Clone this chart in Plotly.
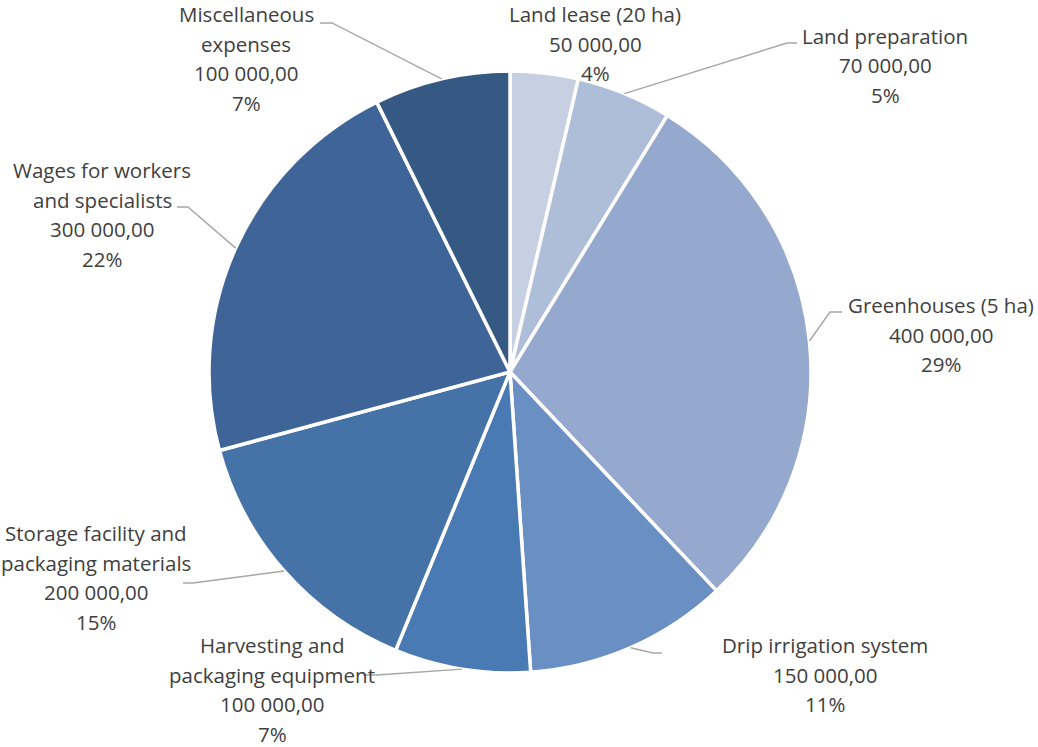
import math
import plotly.graph_objects as go

W, H = 1038, 747

# ---- data ----
categories = ["Land lease (20 ha)", "Land preparation", "Greenhouses (5 ha)",
              "Drip irrigation system", "Harvesting and packaging equipment",
              "Storage facility and packaging materials",
              "Wages for workers and specialists", "Miscellaneous expenses"]
values = [50000, 70000, 400000, 150000, 100000, 200000, 300000, 100000]
label_lines = [["Land lease (20 ha)"], ["Land preparation"], ["Greenhouses (5 ha)"],
               ["Drip irrigation system"], ["Harvesting and", "packaging equipment"],
               ["Storage facility and", "packaging materials"],
               ["Wages for workers", "and specialists"], ["Miscellaneous", "expenses"]]

# ---- styles / layout ----
colors = ["#C7D0E3", "#AEBED9", "#95A9CF", "#6A8FC3", "#4A7AB4",
          "#4673A7", "#3F6598", "#365983"]
CX, CY, R = 510, 372, 301
# label block centre x and first-line y (pixels)
label_pos = [(595, 14), (885, 36), (941, 305), (825, 645), (272, 645),
             (96, 533), (102, 170), (246, 14)]
# leader line: start near label (pixels), elbow point; None => no line
leader_start = [None, ((797, 43), (787, 43)), ((842, 312), (830, 312)),
                ((662, 653), (653, 653)), ((363, 675), (377, 675)),
                ((183, 583), (193, 583)), ((177, 207), (188, 207)),
                ((320, 23), (332, 23))]
LINE_H = 29.5
FONT = dict(family="Open Sans, Calibri, sans-serif", size=20.5, color="#404040")


def px(x):
    return x / W


def py(y):
    return 1 - y / H


def fmt(v):
    s = f"{v:,.2f}"
    return s.replace(",", " ").replace(".", ",")


total = sum(values)

fig = go.Figure(go.Pie(
    values=values, labels=categories, sort=False, direction="clockwise", rotation=0,
    textinfo="none", hoverinfo="label+value+percent",
    marker=dict(colors=colors, line=dict(color="white", width=3.5)),
    domain=dict(x=[px(CX - R), px(CX + R)], y=[py(CY + R), py(CY - R)]),
    showlegend=False,
))

annotations = []
shapes = []
cum = 0
for i, v in enumerate(values):
    mid = (cum + v / 2) / total
    cum += v
    ang = 2 * math.pi * mid
    ex, ey = CX + R * math.sin(ang), CY - R * math.cos(ang)
    lines = label_lines[i] + [fmt(v), f"{round(100 * v / total)}%"]
    lx, ly = label_pos[i]
    for k, t in enumerate(lines):
        annotations.append(dict(
            x=px(lx), y=py(ly + k * LINE_H), xref="paper", yref="paper",
            text=t, showarrow=False, xanchor="center", yanchor="middle", font=FONT))
    if leader_start[i]:
        (sx, sy), (bx, by) = leader_start[i]
        path = f"M {px(sx)} {py(sy)} L {px(bx)} {py(by)} L {px(ex)} {py(ey)}"
        shapes.append(dict(type="path", path=path, xref="paper", yref="paper",
                           line=dict(color="#A6A6A6", width=1.4)))

fig.update_layout(
    width=W, height=H, margin=dict(l=0, r=0, t=0, b=0),
    paper_bgcolor="white", plot_bgcolor="white",
    annotations=annotations, shapes=shapes,
)

fig.write_html("out.html")
